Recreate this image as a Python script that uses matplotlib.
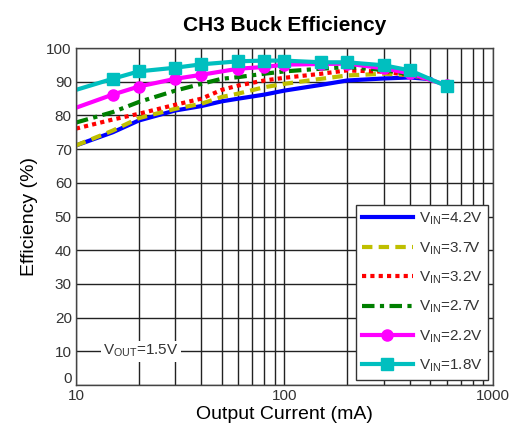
import matplotlib
matplotlib.use("Agg")
import matplotlib.pyplot as plt
import matplotlib.transforms as mtransforms
from matplotlib.ticker import FixedLocator, NullFormatter

plt.rcParams['font.family'] = ['Liberation Sans', 'DejaVu Sans']

x_main = [10, 15, 20, 30, 40, 50, 60, 80, 100, 150, 200, 300, 400, 500]
eff_42 = [71.1, 75.0, 78.5, 81.5, 82.8, 84.2, 85.0, 86.2, 87.4, 89.1, 90.4, 91.0, 91.3, 90.8]
eff_37 = [71.1, 75.5, 79.2, 82.0, 83.5, 85.5, 86.5, 88.4, 89.4, 90.9, 91.9, 92.4, 92.0, 90.8]
eff_32 = [76.1, 78.8, 80.5, 83.2, 85.0, 87.6, 88.9, 90.4, 91.2, 92.4, 93.4, 93.0, 92.0, 90.8]
eff_27 = [77.9, 81.0, 84.0, 87.4, 89.4, 90.9, 91.4, 92.4, 93.1, 93.9, 94.4, 93.5, 92.2, 90.8]

x_mk = [10, 15, 20, 30, 40, 60, 80, 100, 150, 200, 300, 400, 600]
eff_22 = [82.3, 86.2, 88.6, 90.9, 92.1, 93.9, 94.4, 95.1, 95.3, 95.4, 94.0, 92.5, 89.0]
eff_18 = [87.6, 90.9, 93.1, 94.2, 95.2, 96.1, 96.3, 96.3, 95.8, 95.8, 94.9, 93.4, 88.7]

labels = ['V$_{\\mathregular{IN}}$=4.2V', 'V$_{\\mathregular{IN}}$=3.7V',
          'V$_{\\mathregular{IN}}$=3.2V', 'V$_{\\mathregular{IN}}$=2.7V',
          'V$_{\\mathregular{IN}}$=2.2V', 'V$_{\\mathregular{IN}}$=1.8V']

plt.rcParams['mathtext.default'] = 'regular'

fig = plt.figure(figsize=(5.13, 4.3), dpi=100)
ax = fig.add_axes([0.148, 0.105, 0.813, 0.783])

ax.plot(x_main, eff_42, color='#0000FF', lw=3, ls='-', label=labels[0])
ax.plot(x_main, eff_37, color='#BFBF00', lw=3, ls=(0, (2.5, 1.5)), label=labels[1])
ax.plot(x_main, eff_32, color='#FF0000', lw=3, ls=(0, (1, 1)), label=labels[2])
ax.plot(x_main, eff_27, color='#007F00', lw=3, ls=(0, (3, 1.3, 1, 1.3)), label=labels[3])
ax.plot(x_mk, eff_22, color='#FF00FF', lw=3, marker='o', ms=8, markevery=list(range(1, len(x_mk))), label=labels[4])
ax.plot(x_mk, eff_18, color='#00BFBF', lw=3, marker='s', ms=8, markevery=list(range(1, len(x_mk))),
        label=labels[5])

ax.set_xscale('log')
ax.set_xlim(10, 1000)
ax.set_ylim(0, 100)
ax.set_yticks(range(0, 101, 10))
ax.xaxis.set_major_locator(FixedLocator([10, 100, 1000]))
ax.xaxis.set_minor_locator(FixedLocator([m * d for d in (10, 100) for m in range(2, 10)]))
ax.xaxis.set_minor_formatter(NullFormatter())
ax.set_xticklabels(['10', '100', '1000'])
ax.grid(True, which='both', axis='x', color='#222222', lw=1)
ax.grid(True, which='major', axis='y', color='#222222', lw=1)
ax.set_axisbelow(True)
ax.tick_params(which='both', length=0, labelsize=11, labelcolor='#333333', pad=3)
for s in ax.spines.values():
    s.set_color('#444444')
    s.set_linewidth(1)

# lift the "0" label slightly as in the reference
lbl0 = ax.get_yticklabels()[0]
lbl0.set_transform(lbl0.get_transform() + mtransforms.ScaledTranslation(0, 5 / 72, fig.dpi_scale_trans))

ax.set_title('CH3 Buck Efficiency', fontsize=15, fontweight='bold', pad=12)
ax.set_xlabel('Output Current (mA)', fontsize=14, labelpad=2)
ax.set_ylabel('Efficiency (%)', fontsize=14, labelpad=6)

ax.text(13.5, 10, 'V$_{OUT}$=1.5V', fontsize=11, color='#333333', va='center', ha='left',
        bbox=dict(facecolor='white', edgecolor='none', pad=1.5))

leg = ax.legend(loc='lower right', fontsize=11, frameon=True, fancybox=False, handlelength=3.3,
                labelspacing=0.85, borderaxespad=0.3, handletextpad=0.4, borderpad=0.4)
leg.get_frame().set_edgecolor('#333333')
leg.get_frame().set_linewidth(1)
leg.get_frame().set_alpha(1)
for t in leg.get_texts():
    t.set_color('#333333')

fig.savefig('out.png', dpi=100)
